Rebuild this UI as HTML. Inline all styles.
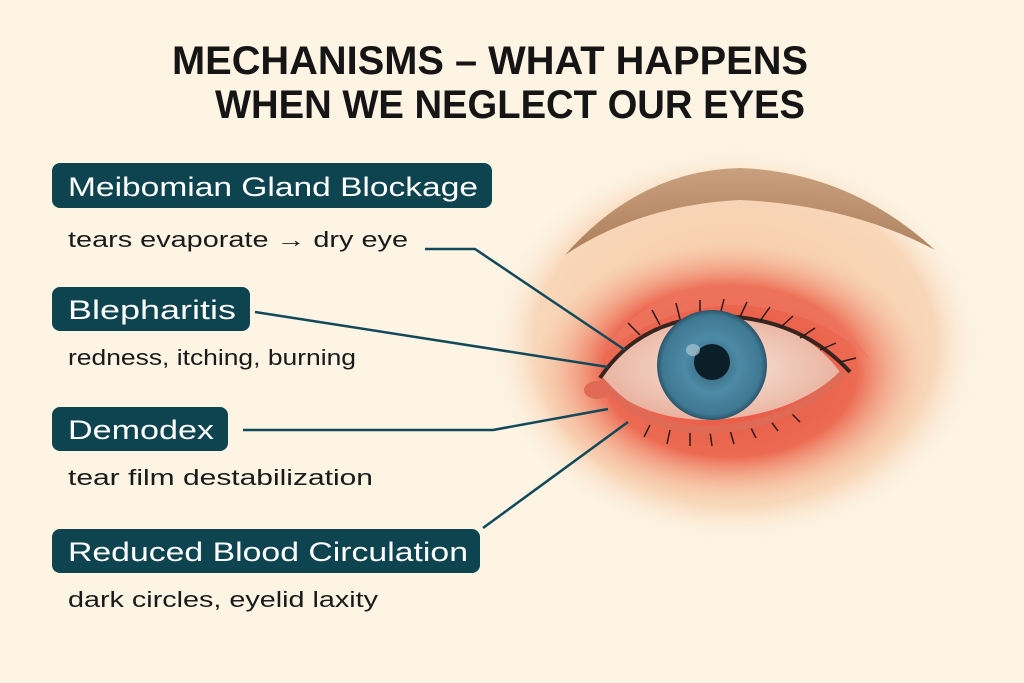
<!DOCTYPE html>
<html><head><meta charset="utf-8"><style>
html,body{margin:0;padding:0;background:#fdf4e4;}
svg{display:block;}
</style></head><body>
<svg width="1024" height="683" viewBox="0 0 1024 683" xmlns="http://www.w3.org/2000/svg">
<defs>
<radialGradient id="skin" cx="0.5" cy="0.5" r="0.5">
<stop offset="0" stop-color="#f6c8a6"/><stop offset="0.8" stop-color="#f8d6b8"/><stop offset="1" stop-color="#fdf4e4" stop-opacity="0"/>
</radialGradient>
<radialGradient id="red" cx="0.5" cy="0.5" r="0.5">
<stop offset="0" stop-color="#e8503e"/><stop offset="0.65" stop-color="#ec6a52"/><stop offset="1" stop-color="#f5b393" stop-opacity="0"/>
</radialGradient>
<radialGradient id="iris" cx="0.5" cy="0.5" r="0.5">
<stop offset="0" stop-color="#2f5f75"/><stop offset="0.5" stop-color="#4d8aa5"/><stop offset="0.9" stop-color="#3f7892"/><stop offset="1" stop-color="#2a556a"/>
</radialGradient>
<radialGradient id="white" cx="0.5" cy="0.5" r="0.5">
<stop offset="0" stop-color="#f8e6dc"/><stop offset="1" stop-color="#eab3a0"/>
</radialGradient>
<linearGradient id="brow" x1="0" y1="0" x2="0" y2="1">
<stop offset="0" stop-color="#c09470"/><stop offset="1" stop-color="#a0704c"/>
</linearGradient>
</defs>
<rect width="1024" height="683" fill="#fdf4e4"/>
<ellipse cx="735" cy="345" rx="250" ry="200" fill="url(#skin)"/>
<ellipse cx="730" cy="372" rx="195" ry="130" fill="url(#red)"/>
<!-- brow -->
<path d="M565 255 Q640 170 740 168 Q850 172 935 250 Q850 205 740 200 Q640 205 565 255Z" fill="url(#brow)" opacity="0.85"/>
<!-- upper lid fold -->
<path d="M595 360 Q650 280 740 285 Q830 295 870 360 Q820 310 740 305 Q660 305 595 360Z" fill="#ee7560" opacity="0.7"/>
<!-- eye almond -->
<path d="M600 378 Q640 318 720 316 Q800 318 840 372 Q790 418 705 420 Q635 418 600 378Z" fill="url(#white)"/>
<path d="M600 378 Q640 318 720 316 Q800 318 850 372" fill="none" stroke="#3a2420" stroke-width="4"/>
<g stroke="#2a1a18" stroke-width="1.5" fill="none">
<path d="M640 335 l-12 -12 M660 325 l-8 -15 M680 319 l-4 -16 M700 316 l0 -16 M720 315 l4 -16 M740 317 l7 -15 M760 321 l10 -14 M780 328 l13 -12 M800 338 l15 -10 M820 350 l16 -7 M840 362 l16 -4"/>
<path d="M650 425 l-6 12 M670 430 l-3 14 M690 432 l0 14 M710 432 l2 14 M730 430 l4 14 M750 426 l6 12 M770 420 l8 11 M790 412 l10 10"/>
</g>
<path d="M600 380 Q640 428 705 430 Q790 428 845 372" fill="none" stroke="#df6a55" stroke-width="8"/>
<ellipse cx="597" cy="390" rx="13" ry="9" fill="#e06a55"/>
<circle cx="712" cy="365" r="55" fill="url(#iris)"/>
<circle cx="712" cy="362" r="18" fill="#0c1e28"/>
<ellipse cx="693" cy="350" rx="7" ry="6" fill="#a8c8d3" opacity="0.7"/>
<!-- title -->
<g font-family="'Liberation Sans',sans-serif" font-weight="bold" fill="#151515">
<text x="172" y="74" font-size="40" textLength="636" lengthAdjust="spacingAndGlyphs">MECHANISMS – WHAT HAPPENS</text>
<text x="215" y="118" font-size="40" textLength="590" lengthAdjust="spacingAndGlyphs">WHEN WE NEGLECT OUR EYES</text>
</g>
<!-- connectors -->
<g fill="none" stroke="#11495a" stroke-width="2.5">
<polyline points="425,249 475,249 625,350"/>
<polyline points="255,312 608,367"/>
<polyline points="243,430 493,430 608,409"/>
<polyline points="483,528 628,422"/>
</g>
<!-- boxes -->
<g fill="#0e4350">
<rect x="52" y="163" width="440" height="45" rx="8"/>
<rect x="52" y="287" width="198" height="44" rx="8"/>
<rect x="52" y="407" width="176" height="44" rx="8"/>
<rect x="52" y="529" width="428" height="44" rx="8"/>
</g>
<g font-family="'Liberation Sans',sans-serif" font-size="27" fill="#fff">
<text x="68" y="196" textLength="410" lengthAdjust="spacingAndGlyphs">Meibomian Gland Blockage</text>
<text x="68" y="319" textLength="168" lengthAdjust="spacingAndGlyphs">Blepharitis</text>
<text x="68" y="439" textLength="146" lengthAdjust="spacingAndGlyphs">Demodex</text>
<text x="68" y="561" textLength="400" lengthAdjust="spacingAndGlyphs">Reduced Blood Circulation</text>
</g>
<g font-family="'Liberation Sans',sans-serif" font-size="22" fill="#1a1a1a">
<text x="68" y="247" textLength="340" lengthAdjust="spacingAndGlyphs">tears evaporate → dry eye</text>
<text x="68" y="365" textLength="288" lengthAdjust="spacingAndGlyphs">redness, itching, burning</text>
<text x="68" y="485" textLength="305" lengthAdjust="spacingAndGlyphs">tear film destabilization</text>
<text x="68" y="607" textLength="310" lengthAdjust="spacingAndGlyphs">dark circles, eyelid laxity</text>
</g>
</svg>
</body></html>
